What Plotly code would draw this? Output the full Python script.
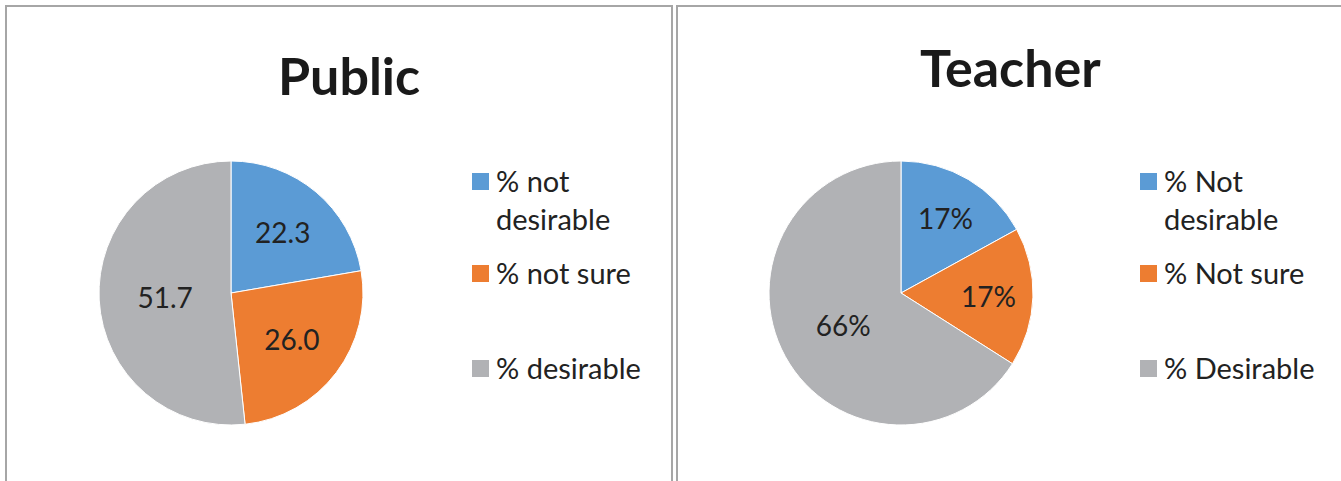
import plotly.graph_objects as go

W, H = 1341, 481

# Survey results: share of respondents per answer
public_labels = ["% not desirable", "% not sure", "% desirable"]
public_values = [22.3, 26.0, 51.7]

teacher_labels = ["% Not desirable", "% Not sure", "% Desirable"]
teacher_values = [17, 17, 66]

slice_colors = ["#5B9BD5", "#ED7D31", "#B1B2B5"]

FONT = "Lato"
TEXT_COLOR = "#222222"


def px_x(x):
    return x / W


def px_y(y):
    return 1 - y / H


fig = go.Figure()

fig.add_trace(go.Pie(
    labels=public_labels, values=public_values,
    sort=False, direction="clockwise", rotation=0,
    marker=dict(colors=slice_colors, line=dict(color="white", width=1)),
    texttemplate="%{value:.1f}", textposition="inside",
    insidetextorientation="horizontal",
    textfont=dict(family=FONT, size=28, color=TEXT_COLOR),
    domain=dict(x=[px_x(99), px_x(363)], y=[px_y(425), px_y(161)]),
    showlegend=False, hoverinfo="label+value",
))

fig.add_trace(go.Pie(
    labels=teacher_labels, values=teacher_values,
    sort=False, direction="clockwise", rotation=0,
    marker=dict(colors=slice_colors, line=dict(color="white", width=1)),
    texttemplate="%{percent:.0%}", textposition="inside",
    insidetextorientation="horizontal",
    textfont=dict(family=FONT, size=28, color=TEXT_COLOR),
    domain=dict(x=[px_x(769), px_x(1033)], y=[px_y(425), px_y(161)]),
    showlegend=False, hoverinfo="label+percent",
))

shapes = []
annotations = []

# Panel frames
border = dict(color="#A6A6A6", width=2)
shapes.append(dict(type="path", xref="paper", yref="paper",
                   path=f"M {px_x(6)},{px_y(490)} L {px_x(6)},{px_y(6)} "
                        f"L {px_x(672)},{px_y(6)} L {px_x(672)},{px_y(490)}",
                   line=border))
shapes.append(dict(type="path", xref="paper", yref="paper",
                   path=f"M {px_x(677)},{px_y(490)} L {px_x(677)},{px_y(6)} "
                        f"L {px_x(1350)},{px_y(6)}",
                   line=border))

# Titles
annotations.append(dict(text="<b>Public</b>", x=px_x(349), y=px_y(75),
                        xref="paper", yref="paper", showarrow=False,
                        xanchor="center", yanchor="middle",
                        font=dict(family=FONT, size=52, color="#1A1A1A")))
annotations.append(dict(text="<b>Teacher</b>", x=px_x(1011), y=px_y(67),
                        xref="paper", yref="paper", showarrow=False,
                        xanchor="center", yanchor="middle",
                        font=dict(family=FONT, size=52, color="#1A1A1A")))


def legend_text(label):
    # Long labels wrap after the second word
    words = label.split(" ")
    if len(words) > 2 and len(label) > 12:
        return " ".join(words[:2]) + "<br>" + " ".join(words[2:])
    return label


# Custom legends: (marker x, text x, row y positions)
legend_layout = [
    (public_labels, 472, 494),
    (teacher_labels, 1140, 1162),
]
row_y = [181, 273, 368]
for labels, mx, tx in legend_layout:
    for i, lab in enumerate(labels):
        cy = row_y[i]
        shapes.append(dict(type="rect", xref="paper", yref="paper",
                           x0=px_x(mx), x1=px_x(mx + 17),
                           y0=px_y(cy + 9), y1=px_y(cy - 8),
                           fillcolor=slice_colors[i], line=dict(width=0)))
        annotations.append(dict(text=legend_text(lab), x=px_x(tx),
                                y=px_y(cy - 20), xref="paper", yref="paper",
                                showarrow=False, xanchor="left", yanchor="top",
                                align="left",
                                font=dict(family=FONT, size=29, color=TEXT_COLOR)))

fig.update_layout(
    width=W, height=H,
    margin=dict(l=0, r=0, t=0, b=0),
    paper_bgcolor="white", plot_bgcolor="white",
    shapes=shapes, annotations=annotations,
)

fig.write_html("out.html")
